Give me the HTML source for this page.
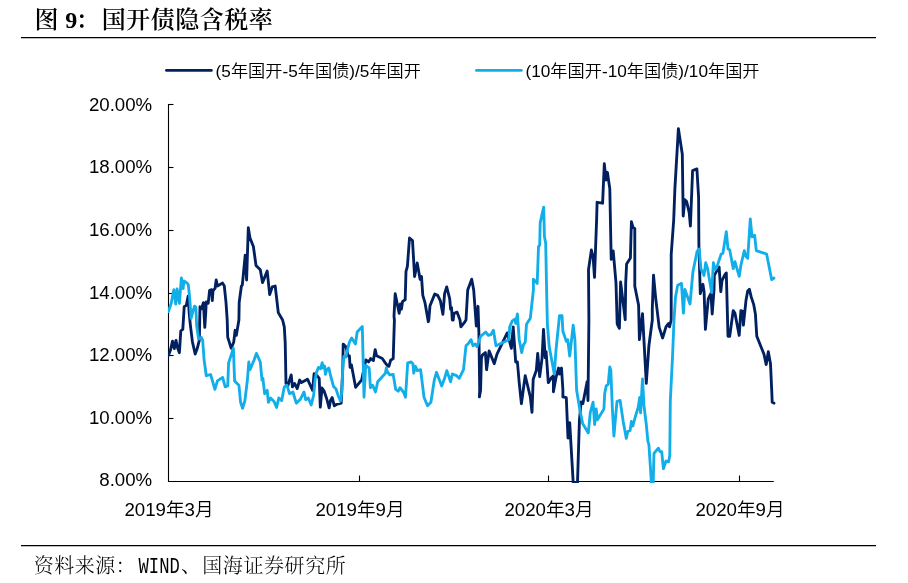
<!DOCTYPE html>
<html lang="zh-CN">
<head>
<meta charset="utf-8">
<title>图 9：国开债隐含税率</title>
<style>
html,body{margin:0;padding:0;background:#fff;}
body{width:908px;height:583px;overflow:hidden;position:relative;}
svg{display:block;position:absolute;left:0;top:0;}
svg{will-change:transform;}
.title{font-family:"Liberation Serif","Noto Serif CJK SC",serif;font-weight:600;font-size:24px;fill:#000;}
.src{font-family:"Liberation Serif","Noto Serif CJK SC",serif;font-size:20px;font-weight:300;fill:#000;}
.wind{font-family:"Liberation Mono",monospace;font-size:21.5px;fill:#000;}
.ax{font-family:"Liberation Sans","Noto Sans CJK SC",sans-serif;font-size:18.67px;fill:#000;}
.lg{font-family:"Liberation Sans","Noto Sans CJK SC",sans-serif;font-size:17.2px;fill:#000;}
.cj{font-weight:350;}
</style>
</head>
<body>
<svg width="908" height="583" viewBox="0 0 908 583">
<rect x="0" y="0" width="908" height="583" fill="#ffffff"/>
<text class="title" x="34.6" y="27.7" dx="0 0 -0.3 -2 1.4" letter-spacing="0.5">图 9：国开债隐含税率</text>
<line x1="21" y1="37.5" x2="876" y2="37.5" stroke="#000" stroke-width="1.25"/>
<line x1="21" y1="545.5" x2="876" y2="545.5" stroke="#000" stroke-width="1.25"/>
<text class="src" x="33.7" y="573" letter-spacing="0.5">资料来源：</text>
<text class="wind" transform="translate(138.5 572.7) scale(0.8 1)">WIND</text>
<text class="src" x="181" y="573" letter-spacing="0.5">、</text>
<text class="src" x="202.2" y="573" letter-spacing="0.6">国海证券研究所</text>
<line x1="166.5" y1="70.4" x2="211.3" y2="70.4" stroke="#002060" stroke-width="2.9" stroke-linecap="round"/>
<text class="lg" x="215.6" y="76.8">(5<tspan class="cj">年国开</tspan>-5<tspan class="cj">年国债</tspan>)/5<tspan class="cj">年国开</tspan></text>
<line x1="476.5" y1="70.4" x2="521.3" y2="70.4" stroke="#12aeea" stroke-width="2.9" stroke-linecap="round"/>
<text class="lg" x="525.5" y="76.8">(10<tspan class="cj">年国开</tspan>-10<tspan class="cj">年国债</tspan>)/10<tspan class="cj">年国开</tspan></text>
<path d="M168.5,104.0 V481.5 H773.8" fill="none" stroke="#000" stroke-width="1.1"/>
<line x1="168.5" y1="104.5" x2="173.5" y2="104.5" stroke="#000" stroke-width="1.1"/>
<line x1="168.5" y1="167.5" x2="173.5" y2="167.5" stroke="#000" stroke-width="1.1"/>
<line x1="168.5" y1="230.5" x2="173.5" y2="230.5" stroke="#000" stroke-width="1.1"/>
<line x1="168.5" y1="293.5" x2="173.5" y2="293.5" stroke="#000" stroke-width="1.1"/>
<line x1="168.5" y1="355.5" x2="173.5" y2="355.5" stroke="#000" stroke-width="1.1"/>
<line x1="168.5" y1="418.5" x2="173.5" y2="418.5" stroke="#000" stroke-width="1.1"/>
<line x1="359.5" y1="481.5" x2="359.5" y2="475.5" stroke="#000" stroke-width="1.1"/>
<line x1="548.5" y1="481.5" x2="548.5" y2="475.5" stroke="#000" stroke-width="1.1"/>
<line x1="739.5" y1="481.5" x2="739.5" y2="475.5" stroke="#000" stroke-width="1.1"/>
<text class="ax" x="152.2" y="110.8" text-anchor="end">20.00%</text>
<text class="ax" x="152.2" y="173.4" text-anchor="end">18.00%</text>
<text class="ax" x="152.2" y="236.0" text-anchor="end">16.00%</text>
<text class="ax" x="152.2" y="298.6" text-anchor="end">14.00%</text>
<text class="ax" x="152.2" y="361.2" text-anchor="end">12.00%</text>
<text class="ax" x="152.2" y="423.8" text-anchor="end">10.00%</text>
<text class="ax" x="152.2" y="486.4" text-anchor="end">8.00%</text>
<text class="ax" x="169.0" y="515.7" text-anchor="middle">2019<tspan class="cj">年</tspan>3<tspan class="cj">月</tspan></text>
<text class="ax" x="360.0" y="515.7" text-anchor="middle">2019<tspan class="cj">年</tspan>9<tspan class="cj">月</tspan></text>
<text class="ax" x="549.0" y="515.7" text-anchor="middle">2020<tspan class="cj">年</tspan>3<tspan class="cj">月</tspan></text>
<text class="ax" x="740.0" y="515.7" text-anchor="middle">2020<tspan class="cj">年</tspan>9<tspan class="cj">月</tspan></text>
<clipPath id="plot"><rect x="168" y="100" width="610" height="382.9"/></clipPath>
<g clip-path="url(#plot)" fill="none" stroke-width="2.85" stroke-linejoin="round" stroke-linecap="round">
<polyline stroke="#002060" points="168.4,355.5 170.5,350.0 172.5,341.1 174.3,348.6 176.0,340.4 177.6,347.9 179.4,352.7 180.8,330.8 182.8,329.4 184.2,306.8 186.3,305.4 188.1,296.2 189.3,314.3 190.4,325.3 192.4,341.7 195.2,354.1 197.2,348.6 199.3,340.4 200.0,306.8 201.4,308.8 203.4,302.6 204.8,327.3 205.8,311.6 206.2,302.0 208.2,303.3 209.6,290.3 211.7,289.6 212.3,300.6 213.0,291.0 215.1,288.2 216.2,280.0 217.4,286.0 222.6,283.1 224.3,286.0 226.0,302.3 227.2,320.0 227.7,337.1 231.2,348.3 233.7,342.3 235.1,330.3 236.3,335.4 238.9,320.0 239.2,302.3 241.4,286.0 242.3,285.2 245.2,255.2 246.6,280.0 248.3,227.7 250.0,238.0 253.4,246.6 256.0,265.4 260.3,269.7 262.5,282.6 267.2,271.1 269.7,294.6 272.3,286.9 275.2,286.0 278.3,312.6 282.6,320.0 284.3,326.9 285.2,342.3 286.0,383.4 287.7,386.0 291.2,374.9 292.4,386.9 294.6,383.4 297.2,388.6 299.7,380.0 301.5,382.6 307.5,379.2 312.6,390.3 314.1,373.6 317.1,375.7 319.2,378.4 320.3,407.2 322.0,388.0 324.0,390.8 326.8,399.0 329.1,407.9 330.5,400.4 332.2,397.6 334.3,405.9 336.4,404.5 341.2,403.1 342.8,367.4 343.2,344.1 346.0,346.9 348.0,355.8 349.4,355.8 350.1,367.4 351.4,364.7 352.8,372.2 355.6,387.3 361.7,379.8 364.2,367.4 365.9,359.9 368.6,362.0 370.7,358.5 373.4,360.6 375.2,349.6 376.6,355.8 382.3,358.5 385.1,362.6 387.8,366.1 388.9,366.3 390.6,360.3 393.2,358.6 394.4,320.0 394.0,316.0 395.2,293.7 399.2,313.4 400.4,304.0 401.4,309.2 402.6,301.4 405.2,299.7 406.0,271.4 407.4,266.3 409.5,238.0 412.5,240.6 414.6,276.6 417.2,262.9 420.1,279.2 421.5,276.6 422.8,295.4 424.9,302.3 428.0,320.0 428.3,321.7 428.8,320.0 430.0,305.7 434.7,294.1 437.7,295.4 440.3,300.6 442.9,314.3 444.6,293.7 446.7,286.9 449.7,298.9 450.6,309.2 451.5,307.4 452.3,320.0 452.3,320.0 453.2,320.0 454.0,313.4 457.1,312.2 460.0,320.0 460.9,326.9 464.3,322.6 466.0,320.0 467.7,290.0 471.7,279.2 473.7,290.0 476.3,326.0 478.0,306.3 478.9,332.9 479.7,390.0 479.4,396.9 480.6,390.0 481.4,358.6 482.3,355.2 485.4,352.6 486.6,369.7 489.1,350.9 494.3,363.7 496.9,354.3 507.2,332.9 511.4,348.3 513.2,326.9 515.7,362.0 517.4,362.0 519.2,382.6 521.4,403.7 525.2,375.7 527.7,386.0 530.3,396.9 532.0,412.3 533.2,379.2 536.3,370.6 537.7,353.4 539.7,376.6 542.0,358.6 543.5,329.4 545.2,357.7 546.1,351.7 548.3,382.6 551.7,377.4 553.4,375.7 553.4,391.7 556.0,377.4 558.6,368.0 559.5,374.0 561.5,368.0 562.9,390.0 562.9,396.9 566.3,397.7 568.0,438.0 569.7,422.6 573.2,482.6 577.5,482.6 579.4,420.7 581.1,401.9 582.9,403.6 587.1,381.7 588.0,400.6 588.9,320.0 588.5,269.7 591.4,250.0 593.1,256.9 594.5,277.4 596.6,220.0 597.1,202.3 602.6,203.2 604.3,163.7 606.0,180.0 607.4,172.3 609.8,188.6 611.2,259.4 613.2,250.9 616.0,282.9 617.2,324.0 619.4,328.3 620.6,282.0 625.2,319.7 625.7,282.9 626.6,264.0 630.4,258.0 631.4,221.7 633.1,227.7 634.8,228.6 634.8,286.3 638.6,305.2 639.4,339.7 642.5,313.7 646.3,383.4 648.9,345.7 652.3,320.0 652.3,308.6 653.5,275.2 655.7,298.3 659.2,327.4 662.6,338.0 666.0,326.9 668.6,323.4 669.5,326.9 671.2,320.0 671.2,254.3 673.7,220.0 674.9,188.6 678.4,128.6 682.3,154.3 683.2,216.0 684.9,199.7 686.6,201.4 689.2,212.6 690.4,226.0 692.6,170.6 696.9,168.9 698.6,197.2 698.9,245.7 700.3,293.7 702.9,284.3 704.1,292.0 705.4,329.4 708.3,298.6 710.9,293.4 712.2,314.0 714.0,290.0 714.3,275.4 719.1,266.9 720.8,291.7 722.0,280.6 724.9,274.6 726.3,272.9 728.0,336.3 729.7,336.3 733.2,310.6 734.9,313.1 739.2,335.4 740.9,310.6 742.6,311.4 743.4,325.2 746.0,300.3 747.7,290.9 749.4,289.2 751.2,296.9 753.7,304.6 755.4,314.0 756.8,336.3 764.0,354.3 766.2,364.6 768.3,351.7 770.5,363.7 771.7,390.0 772.2,402.3 774.0,403.1"/>
<polyline stroke="#12aeea" points="168.4,311.6 171.2,303.3 173.9,289.6 175.7,304.0 177.1,288.9 179.4,303.3 181.2,280.0 181.4,278.0 183.1,288.6 184.0,280.9 187.4,283.4 188.3,284.8 189.7,297.8 191.1,318.4 193.1,310.9 194.5,306.1 195.9,307.4 196.6,325.3 198.6,339.0 201.4,337.6 202.7,340.4 204.1,360.0 206.3,375.7 210.6,374.5 214.9,389.4 217.4,380.9 222.6,377.4 225.2,386.9 227.7,386.0 228.6,362.9 233.4,348.3 234.6,380.9 238.9,385.2 240.6,402.3 242.6,408.3 244.9,400.6 247.4,380.0 248.8,362.0 250.0,369.7 254.0,360.3 256.4,353.4 260.3,362.0 262.0,380.0 262.9,378.3 264.6,393.7 267.2,390.3 268.4,402.3 270.6,398.0 274.0,401.4 276.6,407.4 278.8,398.0 281.7,400.6 284.3,386.9 286.9,385.2 289.5,393.7 292.9,392.0 296.3,403.2 300.6,398.9 304.0,392.0 305.7,399.7 308.3,398.0 311.2,404.9 313.7,394.9 315.1,379.8 316.5,372.2 318.5,367.4 320.6,368.8 322.2,362.6 323.3,368.1 324.7,366.1 325.4,374.3 326.8,369.5 328.8,368.1 330.9,377.0 333.6,386.6 335.9,388.7 338.4,396.2 340.5,401.1 341.8,392.1 342.8,367.4 343.9,356.5 346.0,357.1 347.3,350.3 349.4,342.1 351.7,338.0 355.4,344.0 357.2,332.0 362.3,326.5 363.2,362.9 364.0,397.2 365.7,365.4 369.2,368.0 370.4,387.7 372.6,385.2 375.5,392.0 377.7,381.7 385.4,373.2 386.3,368.0 387.2,371.4 389.7,374.9 393.2,374.5 395.7,389.4 398.3,391.2 400.0,387.7 403.4,392.0 405.5,397.2 407.7,362.9 411.2,362.0 412.9,363.7 413.7,373.2 415.5,366.3 417.2,370.6 420.6,369.7 424.0,397.2 427.5,405.7 430.9,402.3 434.3,380.0 436.5,372.3 441.7,386.0 444.6,378.3 446.8,370.6 450.6,381.7 452.3,374.0 456.6,375.7 459.2,378.3 463.5,369.7 466.0,345.7 468.6,343.2 471.1,339.7 472.9,345.7 475.4,344.0 477.1,346.6 480.6,336.3 485.7,332.0 488.3,335.4 490.9,334.6 493.4,330.3 496.0,345.7 508.9,339.7 509.7,326.9 512.3,320.9 514.9,319.1 515.7,323.4 517.4,314.0 519.2,339.7 521.7,352.6 523.4,344.9 525.2,342.3 526.5,324.3 530.3,318.3 533.4,290.0 533.4,279.2 537.2,283.4 538.5,246.6 539.7,244.9 540.2,222.6 543.7,207.1 544.4,236.3 545.7,243.2 546.6,290.0 547.4,324.3 549.2,346.6 554.3,374.0 556.0,350.0 559.5,315.7 562.0,315.7 562.9,331.2 566.3,341.4 567.7,339.7 569.7,356.0 573.2,325.2 574.9,339.7 576.6,390.0 580.0,410.6 582.6,423.4 588.3,432.9 590.3,412.3 593.1,402.1 594.6,424.5 596.2,409.0 597.4,419.8 603.9,409.0 604.7,393.6 606.2,385.9 608.2,384.3 609.8,367.0 610.8,370.4 612.4,409.0 613.9,436.0 617.0,401.3 620.1,400.5 623.2,421.4 626.3,438.4 627.8,431.4 630.1,430.6 631.4,421.4 632.9,426.0 635.5,416.0 638.2,407.5 639.7,397.5 640.6,412.9 642.5,378.9 644.0,405.9 646.3,424.5 647.9,441.4 648.9,444.7 651.4,482.4 653.2,482.4 654.0,453.3 658.3,448.2 660.0,451.6 661.7,451.6 663.4,468.7 666.0,461.0 668.6,461.9 669.8,455.0 670.3,401.3 672.6,355.0 674.0,320.0 675.5,297.2 677.7,285.2 681.5,283.4 683.4,313.1 684.9,289.4 690.0,304.0 692.9,272.0 697.1,251.4 699.2,248.9 700.9,268.6 704.0,275.4 705.7,262.6 707.4,267.7 711.7,292.6 713.4,262.6 715.2,269.4 716.9,266.9 721.2,254.0 722.9,253.2 726.3,231.7 728.0,248.9 729.7,249.7 733.2,268.6 734.9,261.7 739.2,276.3 740.9,265.2 744.3,250.6 746.0,256.6 747.7,258.3 750.3,218.9 752.0,236.9 754.6,235.2 756.3,250.6 766.6,254.0 771.7,279.7 774.0,278.0"/>
</g>
</svg>
</body>
</html>
